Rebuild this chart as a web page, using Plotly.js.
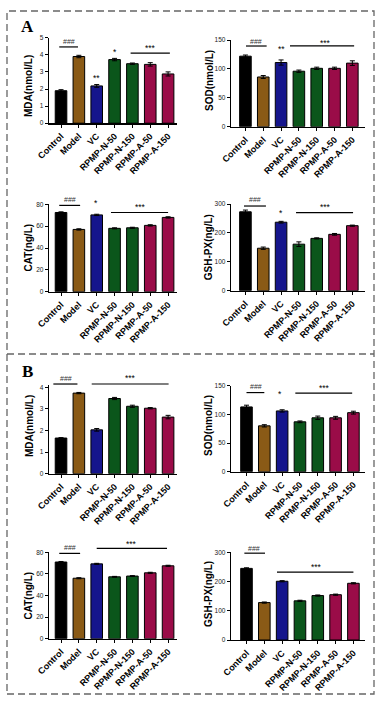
<!DOCTYPE html>
<html>
<head>
<meta charset="utf-8">
<script src="https://cdn.plot.ly/plotly-3.0.1.min.js"></script>
<style>
html,body{margin:0;padding:0;background:#fff;}
#chart{width:387px;height:705px;}
</style>
</head>
<body>
<div id="chart"></div>
<script>
// ---------- data ----------
const groups = ['Control','Model','VC','RPMP-N-50','RPMP-N-150','RPMP-A-50','RPMP-A-150'];

const mdaA = [1.9, 3.9, 2.18, 3.72, 3.48, 3.44, 2.88];
const mdaAErr = [0.06, 0.07, 0.08, 0.07, 0.04, 0.1, 0.12];
const sodA = [122, 86, 111, 96, 101, 101, 110];
const sodAErr = [2, 2.5, 4.5, 2, 2, 2, 4];
const catA = [72.5, 57, 70.3, 58, 58.5, 60.7, 68];
const catAErr = [0.6, 0.6, 0.6, 0.5, 0.5, 0.6, 0.6];
const gshA = [273, 147, 237, 161, 181, 195, 225];
const gshAErr = [6, 4, 3, 8, 2, 3, 2];

const mdaB = [1.65, 3.73, 2.03, 3.48, 3.12, 3.03, 2.62];
const mdaBErr = [0.02, 0.03, 0.06, 0.05, 0.05, 0.03, 0.08];
const sodB = [113, 80, 106, 87, 94, 94, 103];
const sodBErr = [3, 2, 2, 1.5, 3, 2.5, 2.5];
const catB = [71, 56, 69.3, 57.3, 58, 61, 67.5];
const catBErr = [0.5, 0.5, 0.5, 0.4, 0.4, 0.5, 0.5];
const gshB = [245, 128, 201, 134, 152, 155, 194];
const gshBErr = [2, 2, 2, 2, 2, 2, 2];

const titles = ['MDA(nmol/L)','SOD(nmol/L)','CAT(ng/L)','GSH-PX(ng/L)','MDA(nmol/L)','SOD(nmol/L)','CAT(ng/L)','GSH-PX(ng/L)'];
const yTicksMDA_A = [0,1,2,3,4,5];
const yTicksMDA_B = [0,1,2,3,4];
const yTicksSOD = [0,50,100,150];
const yTicksCAT = [0,20,40,60,80];
const yTicksGSH = [0,100,200,300];

// significance marks: lines [x0, x1, y] and labels [x, y, text]
const sigLines = [
  [[-0.1,0.95,4.46],[3.9,6.1,4.1]],
  [[0.03,1.19,139.6],[2.5,6.1,140]],
  [[-0.1,1.07,79],[2.8,6.0,72.5]],
  [[-0.08,1.15,293],[2.84,6.04,270]],
  [[-0.43,0.92,4.15],[1.72,6.03,4.15]],
  [[0,1.0,138],[2.74,5.93,137]],
  [[-0.1,1.07,79],[2.0,5.94,83.7]],
  [[-0.12,1.04,297],[1.71,6.0,232]]
];
const sigLabels = [
  [[0.42,4.77,'###'],[2,2.62,'**'],[3,4.14,'*'],[5.0,4.4,'***']],
  [[0.6,147,'###'],[2.03,134,'**'],[4.5,145.5,'***']],
  [[0.5,84.8,'###'],[1.95,81,'*'],[4.44,77.2,'***']],
  [[0.53,314,'###'],[1.98,268,'*'],[4.47,290,'***']],
  [[0.26,4.42,'###'],[3.88,4.42,'***']],
  [[0.53,148,'###'],[1.9,135,'*'],[4.37,145.5,'***']],
  [[0.5,84.3,'###'],[3.97,88,'***']],
  [[0.44,314,'###'],[3.9,251,'***']]
];

// ---------- layout helpers ----------
const W = 387, H = 705;
const barColors = ['#000000','#8a5a16','#15158c','#0b561b','#0b561b','#9a0c48','#9a0c48'];
const FONT = 'Arial, "Liberation Sans", sans-serif';

const series = [mdaA, sodA, catA, gshA, mdaB, sodB, catB, gshB];
const errors = [mdaAErr, sodAErr, catAErr, gshAErr, mdaBErr, sodBErr, catBErr, gshBErr];
const yTicks = [yTicksMDA_A, yTicksSOD, yTicksCAT, yTicksGSH, yTicksMDA_B, yTicksSOD, yTicksCAT, yTicksGSH];
const yMax = [5, 150, 80, 300, 4.1, 150, 80, 300];

// pixel frames: [xLeft, xRight, yTop, yBottom, xRangeLo, xRangeHi, titleX, titleY]
const frames = [
  [49, 177, 37.7, 123.2, -0.674, 6.5, 29, 86],
  [231, 365, 40, 126.7, -0.81, 6.71, 209, 81],
  [49, 177, 204.3, 291.7, -0.674, 6.5, 28, 247.5],
  [231, 365, 204, 290.7, -0.81, 6.71, 208.5, 246.7],
  [49, 177, 385.1, 473.7, -0.674, 6.5, 29, 426],
  [231, 365, 385.7, 471.7, -0.87, 6.65, 208, 426],
  [49, 177, 552.3, 638.7, -0.674, 6.5, 27.5, 596],
  [231, 365, 552.3, 640, -0.87, 6.65, 208, 594]
];

const data = [];
const layout = {
  width: W, height: H,
  margin: {l:0, r:0, t:0, b:0},
  paper_bgcolor: '#fff', plot_bgcolor: 'rgba(0,0,0,0)',
  showlegend: false,
  font: {family: FONT, color: '#000'},
  shapes: [], annotations: []
};

for (let i = 0; i < 8; i++) {
  const n = i + 1;
  const xa = 'x' + (n === 1 ? '' : n), ya = 'y' + (n === 1 ? '' : n);
  const f = frames[i];
  data.push({
    type: 'bar', x: groups.map((g, k) => k), y: series[i],
    xaxis: xa, yaxis: ya, width: 0.65,
    marker: {color: barColors, line: {color: '#000', width: 1}},
    error_y: {type: 'data', array: errors[i], color: '#000', thickness: 1, width: 2.5},
    hoverinfo: 'skip'
  });
  layout['xaxis' + (n === 1 ? '' : n)] = {
    domain: [f[0] / W, f[1] / W], range: [f[4], f[5]], anchor: ya,
    tickmode: 'array', tickvals: groups.map((g, k) => k), ticktext: groups,
    tickangle: -45, ticks: 'outside', ticklen: 3, tickwidth: 1, tickcolor: '#000',
    showline: true, linecolor: '#000', linewidth: 1.3, showgrid: false, zeroline: false,
    tickfont: {family: FONT, size: 9, color: '#000', weight: 'bold'}, fixedrange: true
  };
  layout['yaxis' + (n === 1 ? '' : n)] = {
    domain: [1 - f[3] / H, 1 - f[2] / H], range: [0, yMax[i]], anchor: xa,
    tickmode: 'array', tickvals: yTicks[i], ticks: 'outside', ticklen: 3, tickwidth: 1, tickcolor: '#000',
    showline: true, linecolor: '#000', linewidth: 1.3, showgrid: false, zeroline: false,
    tickfont: {family: FONT, size: 6.5, color: '#222'},
    fixedrange: true
  };
  // y-axis title
  layout.annotations.push({xref: 'paper', yref: 'paper', x: f[6] / W, y: 1 - f[7] / H,
    text: titles[i], textangle: -90, showarrow: false, xanchor: 'center', yanchor: 'middle',
    font: {family: FONT, size: 10, color: '#000', weight: 'bold'}});
  sigLines[i].forEach(l => {
    layout.shapes.push({type: 'line', xref: xa, yref: ya + ' domain',
      x0: l[0], x1: l[1], y0: l[2] / yMax[i], y1: l[2] / yMax[i],
      line: {color: '#000', width: 1.2}});
  });
  sigLabels[i].forEach(s => {
    const hash = s[2].charAt(0) === '#';
    layout.annotations.push({xref: xa, yref: ya + ' domain', x: s[0], y: s[1] / yMax[i],
      text: s[2], showarrow: false, xanchor: 'center', yanchor: 'middle',
      font: {family: FONT, size: hash ? 7 : 8.5, color: hash ? '#333' : '#000'}});
  });
}

// panel letters
layout.annotations.push({xref: 'paper', yref: 'paper', x: 28 / W, y: 1 - 26 / H, text: 'A', showarrow: false,
  xanchor: 'center', yanchor: 'middle', font: {family: '"Liberation Serif", "Times New Roman", serif', size: 17, color: '#000', weight: 'bold'}});
layout.annotations.push({xref: 'paper', yref: 'paper', x: 28 / W, y: 1 - 371 / H, text: 'B', showarrow: false,
  xanchor: 'center', yanchor: 'middle', font: {family: '"Liberation Serif", "Times New Roman", serif', size: 17, color: '#000', weight: 'bold'}});

// dashed frames
const dashLine = {color: '#666', width: 1.3, dash: '7px,4px'};
layout.shapes.push({type: 'rect', xref: 'paper', yref: 'paper', x0: 7 / W, x1: 374 / W, y0: 1 - 694 / H, y1: 1 - 11 / H, line: dashLine});
layout.shapes.push({type: 'line', xref: 'paper', yref: 'paper', x0: 7 / W, x1: 374 / W, y0: 1 - 354 / H, y1: 1 - 354 / H, line: dashLine});

Plotly.newPlot('chart', data, layout, {displayModeBar: false, staticPlot: true});
</script>
</body>
</html>
